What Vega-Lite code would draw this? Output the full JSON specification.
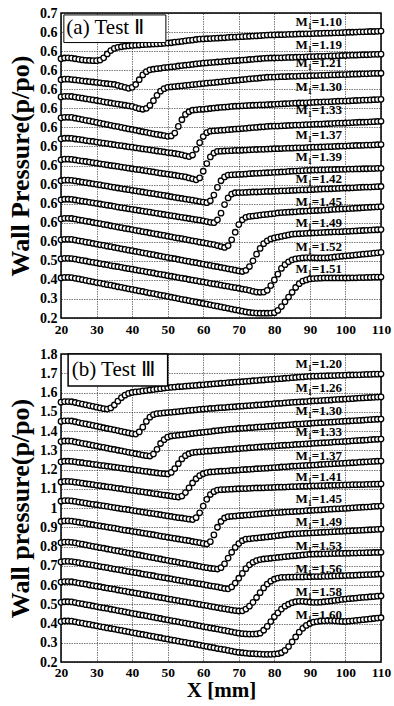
{
"$schema": "https://vega.github.io/schema/vega-lite/v6.json",
"background": "white",
"padding": {"left": 6, "top": 5, "right": 4, "bottom": 0},
"config": {
 "view": {"stroke": "black", "strokeWidth": 1.5},
 "font": "Liberation Serif",
 "axis": {"labelFont": "Liberation Serif", "labelFontWeight": "bold", "labelFontSize": 14, "labelColor": "black", "titleFont": "Liberation Serif", "titleFontWeight": "bold", "titleColor": "black", "domain": false, "ticks": false, "grid": true, "gridColor": "#000", "gridOpacity": 0.75, "gridWidth": 0.7, "gridDash": [1.5, 1], "labelPadding": 4, "labelOverlap": false, "labelFlush": false, "labelBound": false}
},
"datasets": {
"a": [
{"x":20,"s1":1.560,"s2":1.450,"s3":1.360,"s4":1.250,"s5":1.140,"s6":1.030,"s7":0.920,"s8":0.820,"s9":0.720,"s10":0.610,"s11":0.510,"s12":0.410},
{"x":21,"s1":1.564,"s2":1.453,"s3":1.363,"s4":1.253,"s5":1.143,"s6":1.033,"s7":0.923,"s8":0.823,"s9":0.723,"s10":0.613,"s11":0.513,"s12":0.413},
{"x":22,"s1":1.565,"s2":1.453,"s3":1.363,"s4":1.253,"s5":1.143,"s6":1.033,"s7":0.923,"s8":0.823,"s9":0.723,"s10":0.613,"s11":0.513,"s12":0.413},
{"x":23,"s1":1.563,"s2":1.451,"s3":1.362,"s4":1.252,"s5":1.142,"s6":1.032,"s7":0.922,"s8":0.822,"s9":0.722,"s10":0.612,"s11":0.512,"s12":0.412},
{"x":24,"s1":1.560,"s2":1.449,"s3":1.359,"s4":1.248,"s5":1.139,"s6":1.029,"s7":0.919,"s8":0.819,"s9":0.719,"s10":0.609,"s11":0.509,"s12":0.408},
{"x":25,"s1":1.557,"s2":1.447,"s3":1.356,"s4":1.245,"s5":1.137,"s6":1.026,"s7":0.916,"s8":0.816,"s9":0.715,"s10":0.605,"s11":0.505,"s12":0.405},
{"x":26,"s1":1.554,"s2":1.444,"s3":1.353,"s4":1.241,"s5":1.134,"s6":1.023,"s7":0.913,"s8":0.813,"s9":0.712,"s10":0.602,"s11":0.502,"s12":0.401},
{"x":27,"s1":1.552,"s2":1.442,"s3":1.350,"s4":1.237,"s5":1.131,"s6":1.021,"s7":0.910,"s8":0.810,"s9":0.708,"s10":0.598,"s11":0.499,"s12":0.397},
{"x":28,"s1":1.551,"s2":1.440,"s3":1.347,"s4":1.234,"s5":1.128,"s6":1.018,"s7":0.907,"s8":0.807,"s9":0.705,"s10":0.595,"s11":0.495,"s12":0.393},
{"x":29,"s1":1.550,"s2":1.438,"s3":1.344,"s4":1.230,"s5":1.126,"s6":1.015,"s7":0.904,"s8":0.804,"s9":0.701,"s10":0.591,"s11":0.492,"s12":0.390},
{"x":30,"s1":1.550,"s2":1.436,"s3":1.341,"s4":1.226,"s5":1.123,"s6":1.012,"s7":0.901,"s8":0.801,"s9":0.698,"s10":0.588,"s11":0.489,"s12":0.386},
{"x":31,"s1":1.553,"s2":1.434,"s3":1.338,"s4":1.222,"s5":1.120,"s6":1.009,"s7":0.898,"s8":0.798,"s9":0.695,"s10":0.584,"s11":0.485,"s12":0.383},
{"x":32,"s1":1.565,"s2":1.431,"s3":1.334,"s4":1.218,"s5":1.117,"s6":1.006,"s7":0.895,"s8":0.795,"s9":0.691,"s10":0.581,"s11":0.482,"s12":0.379},
{"x":33,"s1":1.585,"s2":1.429,"s3":1.331,"s4":1.215,"s5":1.115,"s6":1.003,"s7":0.892,"s8":0.792,"s9":0.688,"s10":0.577,"s11":0.479,"s12":0.375},
{"x":34,"s1":1.603,"s2":1.427,"s3":1.328,"s4":1.211,"s5":1.112,"s6":1.000,"s7":0.888,"s8":0.789,"s9":0.684,"s10":0.574,"s11":0.475,"s12":0.372},
{"x":35,"s1":1.614,"s2":1.425,"s3":1.325,"s4":1.207,"s5":1.109,"s6":0.998,"s7":0.885,"s8":0.786,"s9":0.681,"s10":0.570,"s11":0.472,"s12":0.368},
{"x":36,"s1":1.620,"s2":1.420,"s3":1.322,"s4":1.204,"s5":1.106,"s6":0.995,"s7":0.882,"s8":0.782,"s9":0.677,"s10":0.567,"s11":0.469,"s12":0.364},
{"x":37,"s1":1.623,"s2":1.415,"s3":1.319,"s4":1.200,"s5":1.104,"s6":0.992,"s7":0.879,"s8":0.779,"s9":0.674,"s10":0.563,"s11":0.466,"s12":0.361},
{"x":38,"s1":1.626,"s2":1.410,"s3":1.316,"s4":1.196,"s5":1.101,"s6":0.989,"s7":0.876,"s8":0.776,"s9":0.670,"s10":0.560,"s11":0.462,"s12":0.357},
{"x":39,"s1":1.628,"s2":1.405,"s3":1.313,"s4":1.192,"s5":1.098,"s6":0.986,"s7":0.873,"s8":0.773,"s9":0.667,"s10":0.556,"s11":0.459,"s12":0.353},
{"x":40,"s1":1.630,"s2":1.410,"s3":1.310,"s4":1.189,"s5":1.096,"s6":0.983,"s7":0.870,"s8":0.770,"s9":0.664,"s10":0.553,"s11":0.456,"s12":0.350},
{"x":41,"s1":1.631,"s2":1.425,"s3":1.304,"s4":1.185,"s5":1.093,"s6":0.980,"s7":0.867,"s8":0.767,"s9":0.660,"s10":0.549,"s11":0.452,"s12":0.346},
{"x":42,"s1":1.632,"s2":1.450,"s3":1.298,"s4":1.181,"s5":1.090,"s6":0.978,"s7":0.864,"s8":0.764,"s9":0.657,"s10":0.546,"s11":0.449,"s12":0.342},
{"x":43,"s1":1.634,"s2":1.475,"s3":1.295,"s4":1.177,"s5":1.087,"s6":0.975,"s7":0.861,"s8":0.761,"s9":0.653,"s10":0.542,"s11":0.446,"s12":0.339},
{"x":44,"s1":1.635,"s2":1.492,"s3":1.300,"s4":1.174,"s5":1.085,"s6":0.972,"s7":0.858,"s8":0.758,"s9":0.650,"s10":0.539,"s11":0.442,"s12":0.335},
{"x":45,"s1":1.636,"s2":1.502,"s3":1.315,"s4":1.170,"s5":1.082,"s6":0.969,"s7":0.855,"s8":0.755,"s9":0.646,"s10":0.535,"s11":0.439,"s12":0.331},
{"x":46,"s1":1.637,"s2":1.505,"s3":1.340,"s4":1.166,"s5":1.079,"s6":0.966,"s7":0.852,"s8":0.752,"s9":0.643,"s10":0.532,"s11":0.436,"s12":0.328},
{"x":47,"s1":1.638,"s2":1.508,"s3":1.368,"s4":1.163,"s5":1.076,"s6":0.963,"s7":0.849,"s8":0.749,"s9":0.640,"s10":0.528,"s11":0.432,"s12":0.324},
{"x":48,"s1":1.639,"s2":1.510,"s3":1.390,"s4":1.160,"s5":1.074,"s6":0.960,"s7":0.846,"s8":0.746,"s9":0.636,"s10":0.525,"s11":0.429,"s12":0.320},
{"x":49,"s1":1.641,"s2":1.513,"s3":1.403,"s4":1.157,"s5":1.071,"s6":0.957,"s7":0.843,"s8":0.743,"s9":0.633,"s10":0.521,"s11":0.426,"s12":0.317},
{"x":50,"s1":1.642,"s2":1.515,"s3":1.410,"s4":1.153,"s5":1.068,"s6":0.955,"s7":0.840,"s8":0.740,"s9":0.629,"s10":0.518,"s11":0.422,"s12":0.313},
{"x":51,"s1":1.644,"s2":1.517,"s3":1.412,"s4":1.155,"s5":1.066,"s6":0.952,"s7":0.836,"s8":0.737,"s9":0.626,"s10":0.514,"s11":0.419,"s12":0.309},
{"x":52,"s1":1.647,"s2":1.519,"s3":1.414,"s4":1.170,"s5":1.063,"s6":0.949,"s7":0.833,"s8":0.734,"s9":0.622,"s10":0.511,"s11":0.416,"s12":0.306},
{"x":53,"s1":1.649,"s2":1.522,"s3":1.416,"s4":1.205,"s5":1.060,"s6":0.946,"s7":0.830,"s8":0.731,"s9":0.619,"s10":0.507,"s11":0.412,"s12":0.302},
{"x":54,"s1":1.651,"s2":1.524,"s3":1.418,"s4":1.240,"s5":1.056,"s6":0.943,"s7":0.827,"s8":0.728,"s9":0.616,"s10":0.504,"s11":0.409,"s12":0.298},
{"x":55,"s1":1.654,"s2":1.526,"s3":1.420,"s4":1.268,"s5":1.051,"s6":0.940,"s7":0.824,"s8":0.725,"s9":0.612,"s10":0.500,"s11":0.406,"s12":0.295},
{"x":56,"s1":1.656,"s2":1.528,"s3":1.422,"s4":1.282,"s5":1.047,"s6":0.935,"s7":0.821,"s8":0.722,"s9":0.609,"s10":0.497,"s11":0.402,"s12":0.291},
{"x":57,"s1":1.658,"s2":1.530,"s3":1.424,"s4":1.290,"s5":1.055,"s6":0.930,"s7":0.818,"s8":0.719,"s9":0.605,"s10":0.493,"s11":0.399,"s12":0.287},
{"x":58,"s1":1.661,"s2":1.533,"s3":1.426,"s4":1.292,"s5":1.085,"s6":0.925,"s7":0.815,"s8":0.716,"s9":0.602,"s10":0.490,"s11":0.396,"s12":0.284},
{"x":59,"s1":1.663,"s2":1.535,"s3":1.428,"s4":1.294,"s5":1.120,"s6":0.935,"s7":0.811,"s8":0.713,"s9":0.598,"s10":0.486,"s11":0.392,"s12":0.280},
{"x":60,"s1":1.664,"s2":1.537,"s3":1.430,"s4":1.295,"s5":1.152,"s6":0.970,"s7":0.808,"s8":0.710,"s9":0.595,"s10":0.483,"s11":0.389,"s12":0.276},
{"x":61,"s1":1.665,"s2":1.538,"s3":1.432,"s4":1.297,"s5":1.172,"s6":1.010,"s7":0.805,"s8":0.706,"s9":0.592,"s10":0.479,"s11":0.386,"s12":0.273},
{"x":62,"s1":1.666,"s2":1.540,"s3":1.434,"s4":1.299,"s5":1.180,"s6":1.045,"s7":0.815,"s8":0.702,"s9":0.588,"s10":0.476,"s11":0.382,"s12":0.269},
{"x":63,"s1":1.667,"s2":1.541,"s3":1.435,"s4":1.301,"s5":1.182,"s6":1.065,"s7":0.845,"s8":0.700,"s9":0.585,"s10":0.472,"s11":0.379,"s12":0.265},
{"x":64,"s1":1.668,"s2":1.543,"s3":1.437,"s4":1.303,"s5":1.183,"s6":1.074,"s7":0.885,"s8":0.715,"s9":0.580,"s10":0.469,"s11":0.376,"s12":0.262},
{"x":65,"s1":1.669,"s2":1.544,"s3":1.439,"s4":1.305,"s5":1.185,"s6":1.075,"s7":0.920,"s8":0.750,"s9":0.575,"s10":0.465,"s11":0.372,"s12":0.258},
{"x":66,"s1":1.670,"s2":1.546,"s3":1.441,"s4":1.306,"s5":1.186,"s6":1.076,"s7":0.940,"s8":0.795,"s9":0.570,"s10":0.462,"s11":0.369,"s12":0.254},
{"x":67,"s1":1.672,"s2":1.547,"s3":1.443,"s4":1.308,"s5":1.188,"s6":1.077,"s7":0.950,"s8":0.830,"s9":0.580,"s10":0.458,"s11":0.366,"s12":0.251},
{"x":68,"s1":1.673,"s2":1.549,"s3":1.445,"s4":1.310,"s5":1.189,"s6":1.078,"s7":0.951,"s8":0.850,"s9":0.610,"s10":0.455,"s11":0.362,"s12":0.247},
{"x":69,"s1":1.674,"s2":1.550,"s3":1.446,"s4":1.311,"s5":1.191,"s6":1.079,"s7":0.952,"s8":0.857,"s9":0.650,"s10":0.451,"s11":0.359,"s12":0.243},
{"x":70,"s1":1.675,"s2":1.551,"s3":1.448,"s4":1.312,"s5":1.192,"s6":1.079,"s7":0.953,"s8":0.858,"s9":0.690,"s10":0.447,"s11":0.356,"s12":0.240},
{"x":71,"s1":1.676,"s2":1.553,"s3":1.450,"s4":1.313,"s5":1.194,"s6":1.080,"s7":0.954,"s8":0.858,"s9":0.715,"s10":0.444,"s11":0.352,"s12":0.236},
{"x":72,"s1":1.677,"s2":1.554,"s3":1.452,"s4":1.314,"s5":1.195,"s6":1.081,"s7":0.955,"s8":0.859,"s9":0.728,"s10":0.450,"s11":0.349,"s12":0.232},
{"x":73,"s1":1.678,"s2":1.556,"s3":1.454,"s4":1.315,"s5":1.197,"s6":1.082,"s7":0.957,"s8":0.860,"s9":0.733,"s10":0.470,"s11":0.345,"s12":0.229},
{"x":74,"s1":1.679,"s2":1.557,"s3":1.456,"s4":1.316,"s5":1.199,"s6":1.083,"s7":0.958,"s8":0.861,"s9":0.735,"s10":0.500,"s11":0.340,"s12":0.227},
{"x":75,"s1":1.680,"s2":1.559,"s3":1.457,"s4":1.317,"s5":1.200,"s6":1.084,"s7":0.959,"s8":0.861,"s9":0.737,"s10":0.535,"s11":0.336,"s12":0.226},
{"x":76,"s1":1.681,"s2":1.560,"s3":1.459,"s4":1.318,"s5":1.202,"s6":1.085,"s7":0.960,"s8":0.862,"s9":0.740,"s10":0.565,"s11":0.335,"s12":0.225},
{"x":77,"s1":1.683,"s2":1.562,"s3":1.461,"s4":1.318,"s5":1.203,"s6":1.085,"s7":0.961,"s8":0.863,"s9":0.742,"s10":0.590,"s11":0.336,"s12":0.225},
{"x":78,"s1":1.684,"s2":1.563,"s3":1.463,"s4":1.319,"s5":1.205,"s6":1.086,"s7":0.962,"s8":0.864,"s9":0.744,"s10":0.605,"s11":0.345,"s12":0.225},
{"x":79,"s1":1.685,"s2":1.564,"s3":1.464,"s4":1.320,"s5":1.206,"s6":1.087,"s7":0.963,"s8":0.864,"s9":0.746,"s10":0.615,"s11":0.370,"s12":0.226},
{"x":80,"s1":1.685,"s2":1.564,"s3":1.464,"s4":1.321,"s5":1.207,"s6":1.088,"s7":0.964,"s8":0.865,"s9":0.748,"s10":0.620,"s11":0.400,"s12":0.228},
{"x":81,"s1":1.686,"s2":1.565,"s3":1.465,"s4":1.322,"s5":1.207,"s6":1.088,"s7":0.965,"s8":0.866,"s9":0.751,"s10":0.624,"s11":0.430,"s12":0.240},
{"x":82,"s1":1.686,"s2":1.565,"s3":1.466,"s4":1.323,"s5":1.208,"s6":1.089,"s7":0.966,"s8":0.867,"s9":0.753,"s10":0.628,"s11":0.460,"s12":0.260},
{"x":83,"s1":1.687,"s2":1.566,"s3":1.466,"s4":1.324,"s5":1.209,"s6":1.090,"s7":0.967,"s8":0.867,"s9":0.754,"s10":0.632,"s11":0.480,"s12":0.285},
{"x":84,"s1":1.688,"s2":1.567,"s3":1.467,"s4":1.325,"s5":1.210,"s6":1.091,"s7":0.969,"s8":0.868,"s9":0.755,"s10":0.636,"s11":0.495,"s12":0.310},
{"x":85,"s1":1.688,"s2":1.567,"s3":1.468,"s4":1.326,"s5":1.211,"s6":1.091,"s7":0.970,"s8":0.869,"s9":0.756,"s10":0.640,"s11":0.505,"s12":0.335},
{"x":86,"s1":1.689,"s2":1.568,"s3":1.468,"s4":1.327,"s5":1.212,"s6":1.092,"s7":0.971,"s8":0.870,"s9":0.757,"s10":0.641,"s11":0.510,"s12":0.360},
{"x":87,"s1":1.690,"s2":1.569,"s3":1.469,"s4":1.328,"s5":1.212,"s6":1.093,"s7":0.972,"s8":0.871,"s9":0.759,"s10":0.642,"s11":0.513,"s12":0.380},
{"x":88,"s1":1.690,"s2":1.569,"s3":1.470,"s4":1.328,"s5":1.213,"s6":1.093,"s7":0.973,"s8":0.872,"s9":0.760,"s10":0.643,"s11":0.515,"s12":0.393},
{"x":89,"s1":1.691,"s2":1.570,"s3":1.470,"s4":1.329,"s5":1.214,"s6":1.094,"s7":0.974,"s8":0.872,"s9":0.761,"s10":0.644,"s11":0.517,"s12":0.400},
{"x":90,"s1":1.691,"s2":1.571,"s3":1.471,"s4":1.330,"s5":1.215,"s6":1.095,"s7":0.975,"s8":0.873,"s9":0.762,"s10":0.645,"s11":0.517,"s12":0.405},
{"x":91,"s1":1.692,"s2":1.571,"s3":1.472,"s4":1.331,"s5":1.216,"s6":1.096,"s7":0.976,"s8":0.874,"s9":0.763,"s10":0.646,"s11":0.516,"s12":0.407},
{"x":92,"s1":1.693,"s2":1.572,"s3":1.472,"s4":1.332,"s5":1.217,"s6":1.096,"s7":0.976,"s8":0.875,"s9":0.764,"s10":0.647,"s11":0.515,"s12":0.408},
{"x":93,"s1":1.693,"s2":1.573,"s3":1.473,"s4":1.333,"s5":1.217,"s6":1.097,"s7":0.977,"s8":0.876,"s9":0.765,"s10":0.648,"s11":0.515,"s12":0.409},
{"x":94,"s1":1.694,"s2":1.573,"s3":1.473,"s4":1.334,"s5":1.218,"s6":1.098,"s7":0.977,"s8":0.877,"s9":0.766,"s10":0.649,"s11":0.515,"s12":0.410},
{"x":95,"s1":1.694,"s2":1.574,"s3":1.474,"s4":1.334,"s5":1.219,"s6":1.099,"s7":0.978,"s8":0.877,"s9":0.767,"s10":0.650,"s11":0.516,"s12":0.410},
{"x":96,"s1":1.695,"s2":1.575,"s3":1.475,"s4":1.335,"s5":1.220,"s6":1.099,"s7":0.978,"s8":0.878,"s9":0.769,"s10":0.651,"s11":0.518,"s12":0.410},
{"x":97,"s1":1.696,"s2":1.575,"s3":1.475,"s4":1.336,"s5":1.221,"s6":1.100,"s7":0.979,"s8":0.879,"s9":0.770,"s10":0.652,"s11":0.520,"s12":0.410},
{"x":98,"s1":1.696,"s2":1.576,"s3":1.476,"s4":1.337,"s5":1.222,"s6":1.101,"s7":0.979,"s8":0.880,"s9":0.771,"s10":0.652,"s11":0.522,"s12":0.410},
{"x":99,"s1":1.697,"s2":1.577,"s3":1.477,"s4":1.338,"s5":1.222,"s6":1.102,"s7":0.980,"s8":0.881,"s9":0.772,"s10":0.653,"s11":0.524,"s12":0.410},
{"x":100,"s1":1.698,"s2":1.577,"s3":1.477,"s4":1.338,"s5":1.223,"s6":1.102,"s7":0.980,"s8":0.882,"s9":0.773,"s10":0.654,"s11":0.526,"s12":0.410},
{"x":101,"s1":1.699,"s2":1.578,"s3":1.478,"s4":1.339,"s5":1.224,"s6":1.103,"s7":0.981,"s8":0.882,"s9":0.774,"s10":0.655,"s11":0.527,"s12":0.410},
{"x":102,"s1":1.699,"s2":1.579,"s3":1.479,"s4":1.340,"s5":1.225,"s6":1.104,"s7":0.981,"s8":0.883,"s9":0.775,"s10":0.656,"s11":0.529,"s12":0.411},
{"x":103,"s1":1.700,"s2":1.579,"s3":1.479,"s4":1.341,"s5":1.226,"s6":1.105,"s7":0.982,"s8":0.884,"s9":0.776,"s10":0.657,"s11":0.531,"s12":0.411},
{"x":104,"s1":1.701,"s2":1.580,"s3":1.480,"s4":1.342,"s5":1.227,"s6":1.105,"s7":0.982,"s8":0.885,"s9":0.777,"s10":0.658,"s11":0.533,"s12":0.412},
{"x":105,"s1":1.701,"s2":1.581,"s3":1.481,"s4":1.343,"s5":1.227,"s6":1.106,"s7":0.983,"s8":0.886,"s9":0.779,"s10":0.659,"s11":0.535,"s12":0.412},
{"x":106,"s1":1.702,"s2":1.581,"s3":1.481,"s4":1.343,"s5":1.228,"s6":1.107,"s7":0.983,"s8":0.887,"s9":0.780,"s10":0.660,"s11":0.536,"s12":0.413},
{"x":107,"s1":1.703,"s2":1.582,"s3":1.482,"s4":1.344,"s5":1.229,"s6":1.107,"s7":0.984,"s8":0.887,"s9":0.781,"s10":0.661,"s11":0.538,"s12":0.413},
{"x":108,"s1":1.703,"s2":1.583,"s3":1.483,"s4":1.345,"s5":1.230,"s6":1.108,"s7":0.984,"s8":0.888,"s9":0.782,"s10":0.662,"s11":0.540,"s12":0.414},
{"x":109,"s1":1.704,"s2":1.583,"s3":1.483,"s4":1.346,"s5":1.231,"s6":1.109,"s7":0.985,"s8":0.889,"s9":0.783,"s10":0.663,"s11":0.542,"s12":0.414},
{"x":110,"s1":1.705,"s2":1.584,"s3":1.484,"s4":1.347,"s5":1.232,"s6":1.110,"s7":0.985,"s8":0.890,"s9":0.784,"s10":0.664,"s11":0.544,"s12":0.415}
],
"b": [
{"x":20,"s1":1.550,"s2":1.450,"s3":1.345,"s4":1.240,"s5":1.135,"s6":1.035,"s7":0.930,"s8":0.820,"s9":0.720,"s10":0.615,"s11":0.510,"s12":0.410},
{"x":21,"s1":1.553,"s2":1.453,"s3":1.348,"s4":1.243,"s5":1.138,"s6":1.038,"s7":0.933,"s8":0.823,"s9":0.723,"s10":0.618,"s11":0.513,"s12":0.413},
{"x":22,"s1":1.553,"s2":1.453,"s3":1.348,"s4":1.243,"s5":1.138,"s6":1.038,"s7":0.933,"s8":0.823,"s9":0.723,"s10":0.618,"s11":0.513,"s12":0.413},
{"x":23,"s1":1.552,"s2":1.452,"s3":1.347,"s4":1.242,"s5":1.137,"s6":1.037,"s7":0.932,"s8":0.822,"s9":0.722,"s10":0.617,"s11":0.512,"s12":0.412},
{"x":24,"s1":1.548,"s2":1.448,"s3":1.343,"s4":1.240,"s5":1.134,"s6":1.034,"s7":0.929,"s8":0.819,"s9":0.719,"s10":0.614,"s11":0.509,"s12":0.409},
{"x":25,"s1":1.544,"s2":1.444,"s3":1.340,"s4":1.237,"s5":1.132,"s6":1.031,"s7":0.926,"s8":0.815,"s9":0.716,"s10":0.610,"s11":0.505,"s12":0.405},
{"x":26,"s1":1.540,"s2":1.440,"s3":1.336,"s4":1.235,"s5":1.129,"s6":1.028,"s7":0.923,"s8":0.812,"s9":0.712,"s10":0.607,"s11":0.502,"s12":0.402},
{"x":27,"s1":1.536,"s2":1.437,"s3":1.333,"s4":1.232,"s5":1.126,"s6":1.025,"s7":0.920,"s8":0.808,"s9":0.709,"s10":0.604,"s11":0.498,"s12":0.398},
{"x":28,"s1":1.532,"s2":1.433,"s3":1.329,"s4":1.230,"s5":1.124,"s6":1.022,"s7":0.916,"s8":0.805,"s9":0.706,"s10":0.600,"s11":0.495,"s12":0.395},
{"x":29,"s1":1.528,"s2":1.429,"s3":1.325,"s4":1.227,"s5":1.121,"s6":1.019,"s7":0.913,"s8":0.801,"s9":0.703,"s10":0.597,"s11":0.491,"s12":0.391},
{"x":30,"s1":1.524,"s2":1.425,"s3":1.322,"s4":1.225,"s5":1.118,"s6":1.017,"s7":0.910,"s8":0.798,"s9":0.699,"s10":0.594,"s11":0.488,"s12":0.388},
{"x":31,"s1":1.520,"s2":1.421,"s3":1.318,"s4":1.222,"s5":1.116,"s6":1.014,"s7":0.907,"s8":0.794,"s9":0.696,"s10":0.591,"s11":0.484,"s12":0.384},
{"x":32,"s1":1.516,"s2":1.417,"s3":1.315,"s4":1.220,"s5":1.113,"s6":1.011,"s7":0.904,"s8":0.791,"s9":0.693,"s10":0.587,"s11":0.481,"s12":0.381},
{"x":33,"s1":1.514,"s2":1.413,"s3":1.311,"s4":1.217,"s5":1.110,"s6":1.008,"s7":0.901,"s8":0.787,"s9":0.690,"s10":0.584,"s11":0.478,"s12":0.377},
{"x":34,"s1":1.520,"s2":1.410,"s3":1.307,"s4":1.215,"s5":1.108,"s6":1.005,"s7":0.898,"s8":0.784,"s9":0.686,"s10":0.581,"s11":0.474,"s12":0.374},
{"x":35,"s1":1.535,"s2":1.406,"s3":1.304,"s4":1.212,"s5":1.105,"s6":1.002,"s7":0.895,"s8":0.780,"s9":0.683,"s10":0.578,"s11":0.471,"s12":0.371},
{"x":36,"s1":1.555,"s2":1.402,"s3":1.300,"s4":1.210,"s5":1.102,"s6":0.999,"s7":0.892,"s8":0.777,"s9":0.680,"s10":0.574,"s11":0.467,"s12":0.367},
{"x":37,"s1":1.573,"s2":1.398,"s3":1.297,"s4":1.207,"s5":1.100,"s6":0.996,"s7":0.888,"s8":0.773,"s9":0.677,"s10":0.571,"s11":0.464,"s12":0.364},
{"x":38,"s1":1.586,"s2":1.394,"s3":1.293,"s4":1.205,"s5":1.097,"s6":0.994,"s7":0.885,"s8":0.770,"s9":0.673,"s10":0.568,"s11":0.460,"s12":0.360},
{"x":39,"s1":1.595,"s2":1.390,"s3":1.289,"s4":1.202,"s5":1.094,"s6":0.991,"s7":0.882,"s8":0.766,"s9":0.670,"s10":0.564,"s11":0.457,"s12":0.357},
{"x":40,"s1":1.600,"s2":1.386,"s3":1.286,"s4":1.200,"s5":1.092,"s6":0.988,"s7":0.879,"s8":0.763,"s9":0.667,"s10":0.561,"s11":0.453,"s12":0.353},
{"x":41,"s1":1.603,"s2":1.384,"s3":1.282,"s4":1.197,"s5":1.089,"s6":0.985,"s7":0.876,"s8":0.759,"s9":0.664,"s10":0.558,"s11":0.450,"s12":0.350},
{"x":42,"s1":1.605,"s2":1.395,"s3":1.279,"s4":1.195,"s5":1.086,"s6":0.982,"s7":0.873,"s8":0.756,"s9":0.661,"s10":0.555,"s11":0.446,"s12":0.346},
{"x":43,"s1":1.608,"s2":1.420,"s3":1.275,"s4":1.192,"s5":1.084,"s6":0.979,"s7":0.870,"s8":0.752,"s9":0.657,"s10":0.551,"s11":0.443,"s12":0.343},
{"x":44,"s1":1.610,"s2":1.450,"s3":1.272,"s4":1.190,"s5":1.081,"s6":0.976,"s7":0.867,"s8":0.749,"s9":0.654,"s10":0.548,"s11":0.440,"s12":0.340},
{"x":45,"s1":1.613,"s2":1.472,"s3":1.270,"s4":1.187,"s5":1.078,"s6":0.973,"s7":0.864,"s8":0.745,"s9":0.651,"s10":0.545,"s11":0.436,"s12":0.336},
{"x":46,"s1":1.615,"s2":1.485,"s3":1.280,"s4":1.185,"s5":1.075,"s6":0.971,"s7":0.861,"s8":0.742,"s9":0.648,"s10":0.542,"s11":0.433,"s12":0.333},
{"x":47,"s1":1.618,"s2":1.490,"s3":1.305,"s4":1.182,"s5":1.073,"s6":0.968,"s7":0.858,"s8":0.738,"s9":0.644,"s10":0.538,"s11":0.429,"s12":0.329},
{"x":48,"s1":1.620,"s2":1.492,"s3":1.335,"s4":1.180,"s5":1.070,"s6":0.965,"s7":0.854,"s8":0.735,"s9":0.641,"s10":0.535,"s11":0.426,"s12":0.326},
{"x":49,"s1":1.623,"s2":1.494,"s3":1.355,"s4":1.178,"s5":1.067,"s6":0.962,"s7":0.851,"s8":0.731,"s9":0.638,"s10":0.532,"s11":0.422,"s12":0.322},
{"x":50,"s1":1.625,"s2":1.496,"s3":1.368,"s4":1.177,"s5":1.065,"s6":0.959,"s7":0.848,"s8":0.728,"s9":0.635,"s10":0.528,"s11":0.419,"s12":0.319},
{"x":51,"s1":1.627,"s2":1.497,"s3":1.374,"s4":1.185,"s5":1.062,"s6":0.956,"s7":0.845,"s8":0.724,"s9":0.632,"s10":0.525,"s11":0.415,"s12":0.315},
{"x":52,"s1":1.628,"s2":1.499,"s3":1.376,"s4":1.205,"s5":1.059,"s6":0.953,"s7":0.842,"s8":0.721,"s9":0.628,"s10":0.522,"s11":0.412,"s12":0.312},
{"x":53,"s1":1.630,"s2":1.501,"s3":1.378,"s4":1.230,"s5":1.057,"s6":0.950,"s7":0.839,"s8":0.718,"s9":0.625,"s10":0.519,"s11":0.409,"s12":0.308},
{"x":54,"s1":1.631,"s2":1.503,"s3":1.380,"s4":1.255,"s5":1.062,"s6":0.948,"s7":0.836,"s8":0.714,"s9":0.622,"s10":0.515,"s11":0.405,"s12":0.305},
{"x":55,"s1":1.633,"s2":1.505,"s3":1.382,"s4":1.272,"s5":1.080,"s6":0.945,"s7":0.833,"s8":0.711,"s9":0.619,"s10":0.512,"s11":0.402,"s12":0.302},
{"x":56,"s1":1.634,"s2":1.507,"s3":1.385,"s4":1.282,"s5":1.105,"s6":0.942,"s7":0.830,"s8":0.707,"s9":0.615,"s10":0.509,"s11":0.398,"s12":0.298},
{"x":57,"s1":1.636,"s2":1.508,"s3":1.387,"s4":1.288,"s5":1.130,"s6":0.940,"s7":0.826,"s8":0.704,"s9":0.612,"s10":0.506,"s11":0.395,"s12":0.295},
{"x":58,"s1":1.637,"s2":1.510,"s3":1.389,"s4":1.290,"s5":1.152,"s6":0.950,"s7":0.823,"s8":0.700,"s9":0.609,"s10":0.502,"s11":0.391,"s12":0.291},
{"x":59,"s1":1.639,"s2":1.512,"s3":1.391,"s4":1.292,"s5":1.168,"s6":0.975,"s7":0.820,"s8":0.697,"s9":0.606,"s10":0.499,"s11":0.388,"s12":0.288},
{"x":60,"s1":1.640,"s2":1.514,"s3":1.393,"s4":1.293,"s5":1.178,"s6":1.010,"s7":0.816,"s8":0.693,"s9":0.603,"s10":0.496,"s11":0.384,"s12":0.284},
{"x":61,"s1":1.642,"s2":1.515,"s3":1.395,"s4":1.295,"s5":1.184,"s6":1.045,"s7":0.813,"s8":0.690,"s9":0.599,"s10":0.493,"s11":0.381,"s12":0.281},
{"x":62,"s1":1.643,"s2":1.517,"s3":1.397,"s4":1.296,"s5":1.187,"s6":1.070,"s7":0.825,"s8":0.687,"s9":0.596,"s10":0.489,"s11":0.377,"s12":0.277},
{"x":63,"s1":1.645,"s2":1.518,"s3":1.400,"s4":1.298,"s5":1.188,"s6":1.085,"s7":0.860,"s8":0.685,"s9":0.593,"s10":0.486,"s11":0.374,"s12":0.274},
{"x":64,"s1":1.646,"s2":1.520,"s3":1.402,"s4":1.299,"s5":1.190,"s6":1.093,"s7":0.900,"s8":0.683,"s9":0.590,"s10":0.483,"s11":0.371,"s12":0.270},
{"x":65,"s1":1.648,"s2":1.521,"s3":1.404,"s4":1.301,"s5":1.191,"s6":1.095,"s7":0.930,"s8":0.690,"s9":0.586,"s10":0.479,"s11":0.367,"s12":0.267},
{"x":66,"s1":1.649,"s2":1.522,"s3":1.406,"s4":1.302,"s5":1.192,"s6":1.096,"s7":0.948,"s8":0.710,"s9":0.582,"s10":0.476,"s11":0.364,"s12":0.264},
{"x":67,"s1":1.651,"s2":1.524,"s3":1.408,"s4":1.304,"s5":1.193,"s6":1.097,"s7":0.955,"s8":0.740,"s9":0.580,"s10":0.473,"s11":0.360,"s12":0.260},
{"x":68,"s1":1.652,"s2":1.525,"s3":1.410,"s4":1.305,"s5":1.195,"s6":1.098,"s7":0.957,"s8":0.770,"s9":0.590,"s10":0.470,"s11":0.357,"s12":0.257},
{"x":69,"s1":1.654,"s2":1.526,"s3":1.411,"s4":1.307,"s5":1.196,"s6":1.099,"s7":0.958,"s8":0.795,"s9":0.610,"s10":0.467,"s11":0.353,"s12":0.253},
{"x":70,"s1":1.655,"s2":1.528,"s3":1.413,"s4":1.308,"s5":1.197,"s6":1.100,"s7":0.960,"s8":0.815,"s9":0.635,"s10":0.465,"s11":0.350,"s12":0.250},
{"x":71,"s1":1.656,"s2":1.529,"s3":1.414,"s4":1.310,"s5":1.199,"s6":1.101,"s7":0.961,"s8":0.830,"s9":0.660,"s10":0.466,"s11":0.347,"s12":0.248},
{"x":72,"s1":1.658,"s2":1.531,"s3":1.415,"s4":1.311,"s5":1.200,"s6":1.101,"s7":0.963,"s8":0.838,"s9":0.685,"s10":0.475,"s11":0.346,"s12":0.246},
{"x":73,"s1":1.659,"s2":1.532,"s3":1.417,"s4":1.313,"s5":1.201,"s6":1.102,"s7":0.964,"s8":0.840,"s9":0.705,"s10":0.490,"s11":0.345,"s12":0.244},
{"x":74,"s1":1.661,"s2":1.533,"s3":1.418,"s4":1.314,"s5":1.202,"s6":1.103,"s7":0.966,"s8":0.842,"s9":0.718,"s10":0.510,"s11":0.345,"s12":0.243},
{"x":75,"s1":1.662,"s2":1.535,"s3":1.420,"s4":1.316,"s5":1.204,"s6":1.104,"s7":0.968,"s8":0.844,"s9":0.727,"s10":0.535,"s11":0.346,"s12":0.242},
{"x":76,"s1":1.664,"s2":1.536,"s3":1.421,"s4":1.317,"s5":1.205,"s6":1.104,"s7":0.969,"s8":0.846,"s9":0.732,"s10":0.560,"s11":0.350,"s12":0.241},
{"x":77,"s1":1.665,"s2":1.537,"s3":1.422,"s4":1.319,"s5":1.206,"s6":1.105,"s7":0.971,"s8":0.848,"s9":0.735,"s10":0.585,"s11":0.365,"s12":0.240},
{"x":78,"s1":1.667,"s2":1.539,"s3":1.424,"s4":1.320,"s5":1.207,"s6":1.106,"s7":0.972,"s8":0.850,"s9":0.737,"s10":0.605,"s11":0.385,"s12":0.240},
{"x":79,"s1":1.668,"s2":1.540,"s3":1.425,"s4":1.321,"s5":1.209,"s6":1.106,"s7":0.974,"s8":0.852,"s9":0.739,"s10":0.620,"s11":0.410,"s12":0.240},
{"x":80,"s1":1.670,"s2":1.542,"s3":1.426,"s4":1.322,"s5":1.210,"s6":1.107,"s7":0.975,"s8":0.854,"s9":0.741,"s10":0.630,"s11":0.435,"s12":0.241},
{"x":81,"s1":1.671,"s2":1.543,"s3":1.428,"s4":1.324,"s5":1.211,"s6":1.108,"s7":0.976,"s8":0.857,"s9":0.743,"s10":0.636,"s11":0.455,"s12":0.243},
{"x":82,"s1":1.672,"s2":1.544,"s3":1.429,"s4":1.325,"s5":1.213,"s6":1.108,"s7":0.977,"s8":0.859,"s9":0.745,"s10":0.640,"s11":0.475,"s12":0.248},
{"x":83,"s1":1.674,"s2":1.546,"s3":1.430,"s4":1.326,"s5":1.214,"s6":1.109,"s7":0.979,"s8":0.861,"s9":0.747,"s10":0.640,"s11":0.490,"s12":0.260},
{"x":84,"s1":1.675,"s2":1.547,"s3":1.432,"s4":1.327,"s5":1.215,"s6":1.110,"s7":0.980,"s8":0.863,"s9":0.749,"s10":0.641,"s11":0.500,"s12":0.280},
{"x":85,"s1":1.677,"s2":1.549,"s3":1.433,"s4":1.328,"s5":1.217,"s6":1.111,"s7":0.981,"s8":0.865,"s9":0.751,"s10":0.641,"s11":0.508,"s12":0.305},
{"x":86,"s1":1.678,"s2":1.550,"s3":1.435,"s4":1.330,"s5":1.218,"s6":1.111,"s7":0.982,"s8":0.866,"s9":0.752,"s10":0.642,"s11":0.513,"s12":0.330},
{"x":87,"s1":1.680,"s2":1.551,"s3":1.436,"s4":1.331,"s5":1.219,"s6":1.112,"s7":0.983,"s8":0.867,"s9":0.754,"s10":0.642,"s11":0.515,"s12":0.355},
{"x":88,"s1":1.681,"s2":1.552,"s3":1.437,"s4":1.332,"s5":1.220,"s6":1.113,"s7":0.984,"s8":0.868,"s9":0.756,"s10":0.642,"s11":0.515,"s12":0.375},
{"x":89,"s1":1.683,"s2":1.553,"s3":1.438,"s4":1.333,"s5":1.221,"s6":1.113,"s7":0.986,"s8":0.869,"s9":0.758,"s10":0.643,"s11":0.513,"s12":0.390},
{"x":90,"s1":1.684,"s2":1.555,"s3":1.439,"s4":1.334,"s5":1.222,"s6":1.114,"s7":0.987,"s8":0.870,"s9":0.760,"s10":0.643,"s11":0.511,"s12":0.400},
{"x":91,"s1":1.685,"s2":1.556,"s3":1.441,"s4":1.336,"s5":1.223,"s6":1.115,"s7":0.988,"s8":0.871,"s9":0.760,"s10":0.644,"s11":0.510,"s12":0.407},
{"x":92,"s1":1.685,"s2":1.557,"s3":1.442,"s4":1.337,"s5":1.224,"s6":1.115,"s7":0.989,"s8":0.872,"s9":0.761,"s10":0.644,"s11":0.510,"s12":0.410},
{"x":93,"s1":1.686,"s2":1.558,"s3":1.443,"s4":1.338,"s5":1.226,"s6":1.116,"s7":0.990,"s8":0.873,"s9":0.761,"s10":0.644,"s11":0.511,"s12":0.413},
{"x":94,"s1":1.686,"s2":1.559,"s3":1.444,"s4":1.339,"s5":1.227,"s6":1.116,"s7":0.991,"s8":0.874,"s9":0.762,"s10":0.645,"s11":0.513,"s12":0.414},
{"x":95,"s1":1.687,"s2":1.560,"s3":1.445,"s4":1.340,"s5":1.228,"s6":1.117,"s7":0.993,"s8":0.875,"s9":0.762,"s10":0.645,"s11":0.515,"s12":0.415},
{"x":96,"s1":1.688,"s2":1.561,"s3":1.446,"s4":1.341,"s5":1.229,"s6":1.117,"s7":0.994,"s8":0.876,"s9":0.763,"s10":0.646,"s11":0.517,"s12":0.415},
{"x":97,"s1":1.688,"s2":1.563,"s3":1.447,"s4":1.343,"s5":1.230,"s6":1.118,"s7":0.995,"s8":0.877,"s9":0.763,"s10":0.647,"s11":0.520,"s12":0.414},
{"x":98,"s1":1.689,"s2":1.564,"s3":1.449,"s4":1.344,"s5":1.231,"s6":1.118,"s7":0.996,"s8":0.878,"s9":0.764,"s10":0.647,"s11":0.522,"s12":0.412},
{"x":99,"s1":1.689,"s2":1.565,"s3":1.450,"s4":1.345,"s5":1.232,"s6":1.119,"s7":0.997,"s8":0.879,"s9":0.764,"s10":0.648,"s11":0.525,"s12":0.411},
{"x":100,"s1":1.690,"s2":1.566,"s3":1.451,"s4":1.346,"s5":1.233,"s6":1.120,"s7":0.998,"s8":0.880,"s9":0.765,"s10":0.649,"s11":0.527,"s12":0.411},
{"x":101,"s1":1.691,"s2":1.567,"s3":1.452,"s4":1.347,"s5":1.234,"s6":1.120,"s7":0.999,"s8":0.881,"s9":0.765,"s10":0.650,"s11":0.529,"s12":0.412},
{"x":102,"s1":1.691,"s2":1.568,"s3":1.453,"s4":1.349,"s5":1.235,"s6":1.121,"s7":1.001,"s8":0.882,"s9":0.766,"s10":0.650,"s11":0.530,"s12":0.414},
{"x":103,"s1":1.692,"s2":1.570,"s3":1.454,"s4":1.350,"s5":1.236,"s6":1.121,"s7":1.002,"s8":0.883,"s9":0.766,"s10":0.651,"s11":0.532,"s12":0.416},
{"x":104,"s1":1.692,"s2":1.571,"s3":1.455,"s4":1.351,"s5":1.238,"s6":1.122,"s7":1.003,"s8":0.884,"s9":0.767,"s10":0.652,"s11":0.534,"s12":0.418},
{"x":105,"s1":1.693,"s2":1.572,"s3":1.456,"s4":1.352,"s5":1.239,"s6":1.122,"s7":1.004,"s8":0.885,"s9":0.767,"s10":0.653,"s11":0.536,"s12":0.420},
{"x":106,"s1":1.694,"s2":1.573,"s3":1.458,"s4":1.353,"s5":1.240,"s6":1.123,"s7":1.005,"s8":0.886,"s9":0.768,"s10":0.654,"s11":0.537,"s12":0.422},
{"x":107,"s1":1.694,"s2":1.574,"s3":1.459,"s4":1.355,"s5":1.241,"s6":1.123,"s7":1.006,"s8":0.887,"s9":0.768,"s10":0.654,"s11":0.539,"s12":0.424},
{"x":108,"s1":1.695,"s2":1.575,"s3":1.460,"s4":1.356,"s5":1.242,"s6":1.124,"s7":1.008,"s8":0.888,"s9":0.769,"s10":0.655,"s11":0.540,"s12":0.426},
{"x":109,"s1":1.695,"s2":1.576,"s3":1.461,"s4":1.357,"s5":1.243,"s6":1.124,"s7":1.009,"s8":0.889,"s9":0.769,"s10":0.656,"s11":0.542,"s12":0.428},
{"x":110,"s1":1.696,"s2":1.577,"s3":1.462,"s4":1.358,"s5":1.244,"s6":1.125,"s7":1.010,"s8":0.890,"s9":0.770,"s10":0.657,"s11":0.543,"s12":0.430}
],
"la": [
{"x":92.5,"y":1.755,"t":"M₁=1.10"},{"x":92.5,"y":1.633,"t":"M₁=1.19"},{"x":92.5,"y":1.538,"t":"M₁=1.21"},{"x":92.5,"y":1.413,"t":"M₁=1.30"},{"x":92.5,"y":1.292,"t":"M₁=1.33"},{"x":92.5,"y":1.161,"t":"M₁=1.37"},{"x":92.5,"y":1.046,"t":"M₁=1.39"},{"x":92.5,"y":0.93,"t":"M₁=1.42"},{"x":92.5,"y":0.81,"t":"M₁=1.45"},{"x":92.5,"y":0.70,"t":"M₁=1.49"},{"x":92.5,"y":0.575,"t":"M₁=1.52"},{"x":92.5,"y":0.455,"t":"M₁=1.51"}
],
"lb": [
{"x":92.5,"y":1.748,"t":"M₁=1.20"},{"x":92.5,"y":1.623,"t":"M₁=1.26"},{"x":92.5,"y":1.504,"t":"M₁=1.30"},{"x":92.5,"y":1.395,"t":"M₁=1.33"},{"x":92.5,"y":1.27,"t":"M₁=1.37"},{"x":92.5,"y":1.161,"t":"M₁=1.41"},{"x":92.5,"y":1.047,"t":"M₁=1.45"},{"x":92.5,"y":0.927,"t":"M₁=1.49"},{"x":92.5,"y":0.803,"t":"M₁=1.53"},{"x":92.5,"y":0.683,"t":"M₁=1.56"},{"x":92.5,"y":0.564,"t":"M₁=1.58"},{"x":92.5,"y":0.444,"t":"M₁=1.60"}
]
},
"vconcat": [
{
 "width": 320, "height": 305,
 "encoding": {
  "x": {"field": "x", "type": "quantitative", "scale": {"domain": [20, 110], "nice": false, "zero": false}, "axis": {"values": [20,30,40,50,60,70,80,90,100,110], "tickCount": 10, "labelOverlap": false, "title": null, "labelFontSize": 13.5}},
  "y": {"field": "y", "type": "quantitative", "scale": {"domain": [0.2, 1.8], "nice": false, "zero": false}, "axis": {"values": [0.2,0.3,0.4,0.5,0.6,0.7,0.8,0.9,1.0,1.1,1.2,1.3,1.4,1.5,1.6,1.7,1.8], "tickCount": 17, "labelOverlap": false, "labelExpr": "datum.value > 1.75 ? '0.7' : (datum.value > 0.55 ? '0.6' : format(datum.value, '~g'))", "title": "Wall Pressure(p/po)", "titleFontSize": 26, "titlePadding": 6}}
 },
 "layer": [
  {"data": {"name": "a"},
   "transform": [{"fold": ["s1","s2","s3","s4","s5","s6","s7","s8","s9","s10","s11","s12"], "as": ["s", "y"]}],
   "mark": {"type": "point", "shape": "circle", "filled": true, "fill": "white", "stroke": "black", "strokeWidth": 1.3, "size": 30, "opacity": 1}},
  {"data": {"values": [{"x": 20.8, "x2": 49.5, "y": 1.79, "y2": 1.645}]},
   "mark": {"type": "rect", "fill": "white", "stroke": "black", "strokeWidth": 1},
   "encoding": {"x2": {"field": "x2"}, "y2": {"field": "y2"}}},
  {"data": {"values": [{"x": 21.5, "y": 1.72, "t": "(a)  Test  Ⅱ"}]},
   "mark": {"type": "text", "align": "left", "baseline": "middle", "fontSize": 21, "font": "Liberation Serif", "color": "black"},
   "encoding": {"text": {"field": "t"}}},
  {"data": {"name": "la"},
   "mark": {"type": "text", "align": "center", "baseline": "middle", "fontSize": 13, "fontWeight": "bold", "font": "Liberation Serif", "color": "black"},
   "encoding": {"text": {"field": "t"}}}
 ]
},
{
 "width": 320, "height": 308,
 "encoding": {
  "x": {"field": "x", "type": "quantitative", "scale": {"domain": [20, 110], "nice": false, "zero": false}, "axis": {"values": [20,30,40,50,60,70,80,90,100,110], "tickCount": 10, "labelOverlap": false, "title": "X [mm]", "titleFontSize": 21, "titlePadding": 1, "labelFontSize": 13.5, "labelPadding": 3}},
  "y": {"field": "y", "type": "quantitative", "scale": {"domain": [0.2, 1.8], "nice": false, "zero": false}, "axis": {"values": [0.2,0.3,0.4,0.5,0.6,0.7,0.8,0.9,1.0,1.1,1.2,1.3,1.4,1.5,1.6,1.7,1.8], "tickCount": 17, "labelOverlap": false, "labelExpr": "format(datum.value, '~g')", "title": "Wall pressure(p/po)", "titleFontSize": 26, "titlePadding": 6}}
 },
 "layer": [
  {"data": {"name": "b"},
   "transform": [{"fold": ["s1","s2","s3","s4","s5","s6","s7","s8","s9","s10","s11","s12"], "as": ["s", "y"]}],
   "mark": {"type": "point", "shape": "circle", "filled": true, "fill": "white", "stroke": "black", "strokeWidth": 1.3, "size": 30, "opacity": 1}},
  {"data": {"values": [{"x": 22, "x2": 50, "y": 1.8, "y2": 1.634}]},
   "mark": {"type": "rect", "fill": "white", "stroke": "black", "strokeWidth": 1.5},
   "encoding": {"x2": {"field": "x2"}, "y2": {"field": "y2"}}},
  {"data": {"values": [{"x": 23, "y": 1.717, "t": "(b)  Test  Ⅲ"}]},
   "mark": {"type": "text", "align": "left", "baseline": "middle", "fontSize": 21, "font": "Liberation Serif", "color": "black"},
   "encoding": {"text": {"field": "t"}}},
  {"data": {"name": "lb"},
   "mark": {"type": "text", "align": "center", "baseline": "middle", "fontSize": 13, "fontWeight": "bold", "font": "Liberation Serif", "color": "black"},
   "encoding": {"text": {"field": "t"}}}
 ]
}
],
"spacing": 36,
"bounds": "flush"
}
